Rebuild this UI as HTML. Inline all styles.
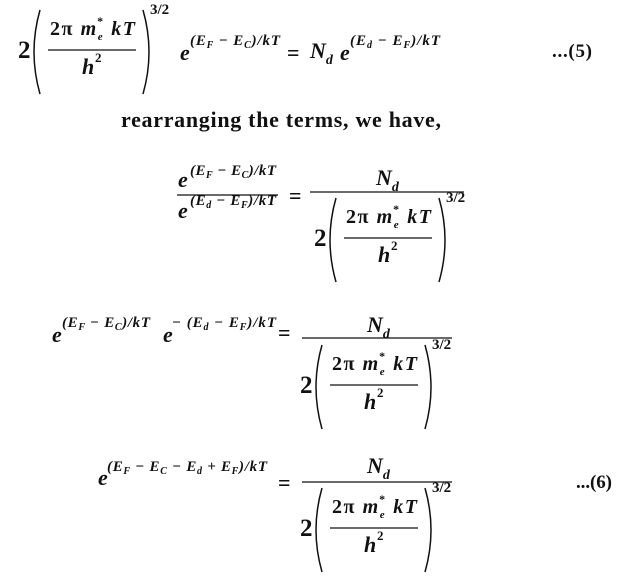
<!DOCTYPE html>
<html><head><meta charset="utf-8"><style>
html,body{margin:0;padding:0;background:#fff;}
svg{display:block;}
text{font-family:"Liberation Serif",serif;font-weight:bold;fill:#111;}
.i{font-style:italic;}
.p{fill:none;stroke:#111;stroke-width:1.5;}
.l{stroke:#111;stroke-width:1.3;}
</style></head><body>
<svg width="627" height="578" viewBox="0 0 627 578" xmlns="http://www.w3.org/2000/svg">
<defs>
<g id="blk">
  <text x="0" y="8" font-size="25">2</text>
  <path class="p" d="M22,-40 Q10,2 22,44"/>
  <text x="32" y="-15" font-size="20" textLength="85">2π <tspan class="i">m</tspan><tspan class="i" font-size="11" dy="5">e</tspan><tspan font-size="12" dx="-7" dy="-15">*</tspan><tspan class="i" dy="10"> kT</tspan></text>
  <line class="l" x1="30" y1="0" x2="118" y2="0"/>
  <text class="i" x="64" y="24" font-size="22">h</text>
  <text x="77" y="12" font-size="13">2</text>
  <path class="p" d="M125,-40 Q137,2 125,44"/>
  <text x="132" y="-36" font-size="15">3/2</text>
</g>
</defs>

<!-- Eq 5 -->
<use href="#blk" transform="translate(18,50)"/>
<text class="i" x="180" y="60" font-size="22">e</text>
<text class="i" x="190" y="45" font-size="15" textLength="90">(E<tspan font-size="10" dy="3">F</tspan><tspan dy="-3"> − E</tspan><tspan font-size="10" dy="3">C</tspan><tspan dy="-3">)/kT</tspan></text>
<text x="287" y="60" font-size="22">=</text>
<text class="i" x="310" y="58" font-size="22">N<tspan font-size="14" dy="6">d</tspan></text>
<text class="i" x="340" y="60" font-size="22">e</text>
<text class="i" x="350" y="45" font-size="15" textLength="90">(E<tspan font-size="10" dy="3">d</tspan><tspan dy="-3"> − E</tspan><tspan font-size="10" dy="3">F</tspan><tspan dy="-3">)/kT</tspan></text>
<text x="552" y="57" font-size="19" font-weight="normal" textLength="40">...(5)</text>

<text x="121" y="127" font-size="22" textLength="320">rearranging the terms, we have,</text>

<!-- Eq a -->
<text class="i" x="178" y="187" font-size="22">e</text>
<text class="i" x="190" y="175" font-size="15" textLength="86">(E<tspan font-size="10" dy="3">F</tspan><tspan dy="-3"> − E</tspan><tspan font-size="10" dy="3">C</tspan><tspan dy="-3">)/kT</tspan></text>
<line class="l" x1="177" y1="195" x2="278" y2="195"/>
<text class="i" x="178" y="218" font-size="22">e</text>
<text class="i" x="190" y="205" font-size="15" textLength="86">(E<tspan font-size="10" dy="3">d</tspan><tspan dy="-3"> − E</tspan><tspan font-size="10" dy="3">F</tspan><tspan dy="-3">)/kT</tspan></text>
<text x="289" y="203" font-size="22">=</text>
<text class="i" x="376" y="185" font-size="22">N<tspan font-size="14" dy="6">d</tspan></text>
<line class="l" x1="310" y1="192" x2="464" y2="192"/>
<use href="#blk" transform="translate(314,238)"/>

<!-- Eq b -->
<text class="i" x="52" y="342" font-size="22">e</text>
<text class="i" x="62" y="327" font-size="15" textLength="88">(E<tspan font-size="10" dy="3">F</tspan><tspan dy="-3"> − E</tspan><tspan font-size="10" dy="3">C</tspan><tspan dy="-3">)/kT</tspan></text>
<text class="i" x="163" y="342" font-size="22">e</text>
<text class="i" x="172" y="327" font-size="15" textLength="104">− (E<tspan font-size="10" dy="3">d</tspan><tspan dy="-3"> − E</tspan><tspan font-size="10" dy="3">F</tspan><tspan dy="-3">)/kT</tspan></text>
<text x="278" y="340" font-size="22">=</text>
<text class="i" x="367" y="332" font-size="22">N<tspan font-size="14" dy="6">d</tspan></text>
<line class="l" x1="302" y1="338" x2="452" y2="338"/>
<use href="#blk" transform="translate(300,385)"/>

<!-- Eq 6 -->
<text class="i" x="98" y="485" font-size="22">e</text>
<text class="i" x="107" y="471" font-size="15" textLength="160">(E<tspan font-size="10" dy="3">F</tspan><tspan dy="-3"> − E</tspan><tspan font-size="10" dy="3">C</tspan><tspan dy="-3"> − E</tspan><tspan font-size="10" dy="3">d</tspan><tspan dy="-3"> + E</tspan><tspan font-size="10" dy="3">F</tspan><tspan dy="-3">)/kT</tspan></text>
<text x="278" y="490" font-size="22">=</text>
<text class="i" x="367" y="473" font-size="22">N<tspan font-size="14" dy="6">d</tspan></text>
<line class="l" x1="302" y1="482" x2="452" y2="482"/>
<use href="#blk" transform="translate(300,528)"/>
<text x="576" y="488" font-size="19" font-weight="normal" textLength="36">...(6)</text>
</svg>
</body></html>
